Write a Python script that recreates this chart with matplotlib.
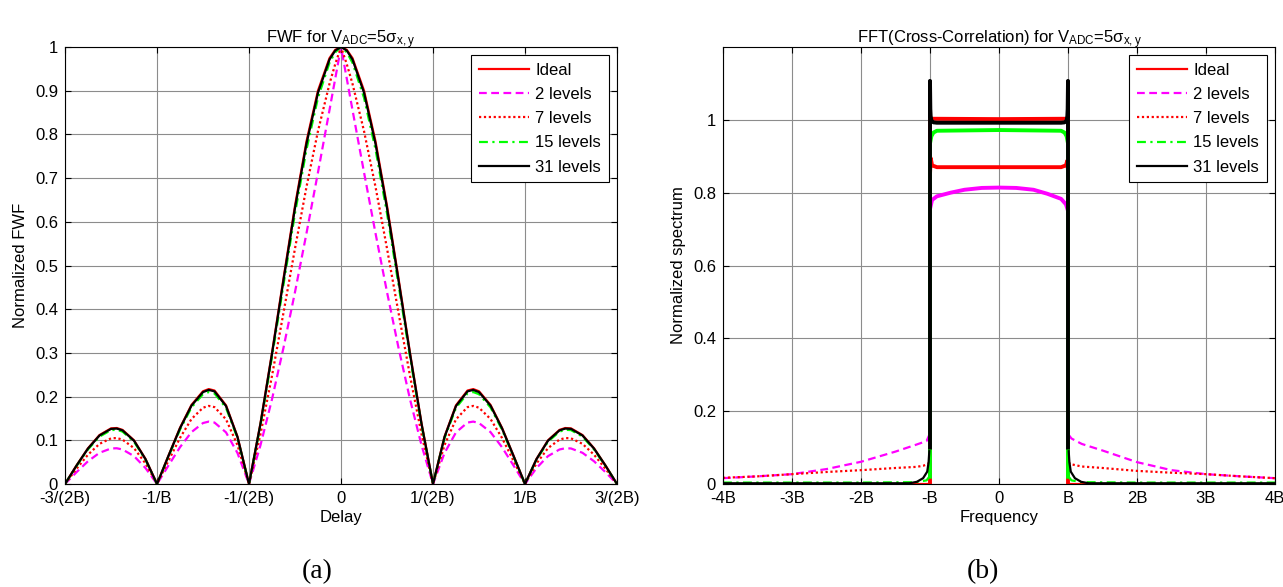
import numpy as np
import matplotlib
matplotlib.use("Agg")
import matplotlib.pyplot as plt

plt.rcParams['font.family'] = ['Liberation Sans', 'DejaVu Sans']
plt.rcParams['mathtext.fontset'] = 'custom'
plt.rcParams['mathtext.rm'] = 'Liberation Sans'
plt.rcParams['mathtext.it'] = 'Liberation Sans:italic'

# ---- (a) FWF vs delay, delay in units of 1/(2B) ----
delay = [-3, -2.875, -2.75, -2.625, -2.5, -2.4375, -2.375, -2.25, -2.125, -2,
         -1.875, -1.75, -1.625, -1.5, -1.4375, -1.375, -1.25, -1.125, -1,
         -0.875, -0.75, -0.625, -0.5, -0.375, -0.25, -0.125, -0.0625,
         0, 0.0625, 0.125, 0.25, 0.375, 0.5, 0.625, 0.75, 0.875, 1,
         1.125, 1.25, 1.375, 1.4375, 1.5, 1.625, 1.75, 1.875, 2,
         2.125, 2.25, 2.375, 2.4375, 2.5, 2.625, 2.75, 2.875, 3]
delay_ticks = [-3, -2, -1, 0, 1, 2, 3]
delay_labels = ['-3/(2B)', '-1/B', '-1/(2B)', '0', '1/(2B)', '1/B', '3/(2B)']

fwf_ideal = [0.0, 0.0424, 0.0818, 0.1120, 0.1273, 0.1281, 0.1238, 0.1000, 0.0573, 0.0,
             0.0650, 0.1286, 0.1810, 0.2122, 0.2172, 0.2139, 0.1801, 0.1083, 0.0,
             0.1392, 0.3001, 0.4705, 0.6366, 0.7842, 0.9003, 0.9745, 0.9936,
             1.0, 0.9936, 0.9745, 0.9003, 0.7842, 0.6366, 0.4705, 0.3001, 0.1392, 0.0,
             0.1083, 0.1801, 0.2139, 0.2172, 0.2122, 0.1810, 0.1286, 0.0650, 0.0,
             0.0573, 0.1000, 0.1238, 0.1281, 0.1273, 0.1120, 0.0818, 0.0424, 0.0]
fwf_2 = [0.0, 0.0270, 0.0521, 0.0714, 0.0813, 0.0818, 0.0790, 0.0638, 0.0365, 0.0,
         0.0424, 0.0842, 0.1188, 0.1395, 0.1428, 0.1406, 0.1182, 0.0708, 0.0,
         0.0889, 0.1940, 0.3119, 0.4393, 0.5739, 0.7133, 0.8559, 0.9279,
         1.0, 0.9279, 0.8559, 0.7133, 0.5739, 0.4393, 0.3119, 0.1940, 0.0889, 0.0,
         0.0708, 0.1182, 0.1406, 0.1428, 0.1395, 0.1188, 0.0842, 0.0424, 0.0,
         0.0365, 0.0638, 0.0790, 0.0818, 0.0813, 0.0714, 0.0521, 0.0270, 0.0]
fwf_7 = [0.0, 0.0348, 0.0671, 0.0919, 0.1045, 0.1052, 0.1016, 0.0821, 0.0470, 0.0,
         0.0533, 0.1055, 0.1488, 0.1746, 0.1787, 0.1759, 0.1481, 0.0889, 0.0,
         0.1143, 0.2476, 0.3920, 0.5390, 0.6801, 0.8078, 0.9158, 0.9611,
         1.0, 0.9611, 0.9158, 0.8078, 0.6801, 0.5390, 0.3920, 0.2476, 0.1143, 0.0,
         0.0889, 0.1481, 0.1759, 0.1787, 0.1746, 0.1488, 0.1055, 0.0533, 0.0,
         0.0470, 0.0821, 0.1016, 0.1052, 0.1045, 0.0919, 0.0671, 0.0348, 0.0]
fwf_15 = [0.0, 0.0411, 0.0792, 0.1084, 0.1233, 0.1240, 0.1199, 0.0968, 0.0555, 0.0,
          0.0629, 0.1245, 0.1753, 0.2055, 0.2104, 0.2072, 0.1744, 0.1049, 0.0,
          0.1347, 0.2908, 0.4565, 0.6193, 0.7657, 0.8839, 0.9640, 0.9879,
          1.0, 0.9879, 0.9640, 0.8839, 0.7657, 0.6193, 0.4565, 0.2908, 0.1347, 0.0,
          0.1049, 0.1744, 0.2072, 0.2104, 0.2055, 0.1753, 0.1245, 0.0629, 0.0,
          0.0555, 0.0968, 0.1199, 0.1240, 0.1233, 0.1084, 0.0792, 0.0411, 0.0]
fwf_31 = [0.0, 0.0420, 0.0811, 0.1110, 0.1261, 0.1269, 0.1227, 0.0991, 0.0568, 0.0,
          0.0644, 0.1275, 0.1794, 0.2103, 0.2153, 0.2120, 0.1785, 0.1073, 0.0,
          0.1379, 0.2975, 0.4665, 0.6317, 0.7789, 0.8956, 0.9715, 0.9920,
          1.0, 0.9920, 0.9715, 0.8956, 0.7789, 0.6317, 0.4665, 0.2975, 0.1379, 0.0,
          0.1073, 0.1785, 0.2120, 0.2153, 0.2103, 0.1794, 0.1275, 0.0644, 0.0,
          0.0568, 0.0991, 0.1227, 0.1269, 0.1261, 0.1110, 0.0811, 0.0420, 0.0]

# ---- (b) spectrum vs frequency, frequency in units of B ----
freq_ticks = [-4, -3, -2, -1, 0, 1, 2, 3, 4]
freq_labels = ['-4B', '-3B', '-2B', '-B', '0', 'B', '2B', '3B', '4B']

spec_ideal_f = [-4, -1.01, -1.0, -1.0, -0.99, 0, 0.99, 1.0, 1.0, 1.01, 4]
spec_ideal_v = [0.0, 0.0, 0.0, 1.01, 1.003, 1.002, 1.003, 1.01, 0.0, 0.0, 0.0]

spec_2_f = [-4, -3.5, -3, -2.5, -2, -1.5, -1.2, -1.05, -1.01,
            -1.0, -1.0, -0.97, -0.9, -0.7, -0.5, -0.25, 0, 0.25, 0.5, 0.7, 0.9, 0.97, 1.0, 1.0,
            1.01, 1.05, 1.2, 1.5, 2, 2.5, 3, 3.5, 4]
spec_2_v = [0.016, 0.021, 0.027, 0.041, 0.061, 0.089, 0.108, 0.118, 0.135,
            0.14, 0.755, 0.78, 0.79, 0.80, 0.808, 0.813, 0.814, 0.813, 0.808, 0.797, 0.783, 0.768, 0.75, 0.14,
            0.135, 0.125, 0.11, 0.092, 0.06, 0.038, 0.027, 0.021, 0.016]

spec_7_f = [-4, -3.5, -3, -2.5, -2, -1.5, -1.2, -1.1, -1.03, -1.01,
            -1.0, -1.0, -0.99, -0.97, -0.9, 0, 0.9, 0.97, 0.99, 1.0, 1.0,
            1.01, 1.03, 1.1, 1.2, 1.5, 2, 2.5, 3, 3.5, 4]
spec_7_v = [0.017, 0.021, 0.027, 0.033, 0.038, 0.044, 0.047, 0.05, 0.055, 0.06,
            0.06, 0.85, 0.895, 0.875, 0.87, 0.87, 0.87, 0.875, 0.888, 0.86, 0.06,
            0.06, 0.055, 0.052, 0.048, 0.044, 0.036, 0.031, 0.027, 0.021, 0.016]

spec_15_f = [-4, -2, -1.2, -1.05, -1.01,
             -1.0, -1.0, -0.98, -0.95, -0.9, 0, 0.9, 0.95, 0.98, 1.0, 1.0,
             1.01, 1.05, 1.2, 2, 4]
spec_15_v = [0.004, 0.004, 0.005, 0.01, 0.02,
             0.02, 0.935, 0.955, 0.965, 0.97, 0.972, 0.97, 0.965, 0.955, 0.935, 0.02,
             0.02, 0.01, 0.005, 0.004, 0.004]

spec_31_f = [-4, -1.3, -1.19, -1.1, -1.04, -1.02, -1.01,
             -1.0, -1.0, -0.995, -0.99, -0.98, -0.95, -0.9, 0, 0.9, 0.95, 0.98, 0.99, 0.995, 1.0, 1.0,
             1.01, 1.02, 1.04, 1.1, 1.19, 1.3, 4]
spec_31_v = [0.002, 0.002, 0.006, 0.016, 0.034, 0.06, 0.09,
             0.1, 1.107, 1.03, 1.01, 0.998, 0.993, 0.992, 0.992, 0.992, 0.993, 0.998, 1.01, 1.03, 1.107, 0.1,
             0.09, 0.06, 0.034, 0.016, 0.006, 0.002, 0.002]

labels = ['Ideal', '2 levels', '7 levels', '15 levels', '31 levels']
colors = ['#ff0000', '#ff00ff', '#ff0000', '#00ff00', '#000000']
styles = ['-', (0, (3.5, 2)), (0, (1, 1.2)), (0, (4, 2, 1, 2)), '-']


def style_axes(ax):
    ax.set_axisbelow(True)
    ax.grid(True, color='#8c8c8c', linewidth=0.8, linestyle='-')
    ax.tick_params(direction='in', top=True, right=True, length=4, width=0.8,
                   labelsize=12, pad=5)
    for sp in ax.spines.values():
        sp.set_linewidth(0.8)


def add_legend(ax):
    leg = ax.legend(loc='upper right', fontsize=12, handlelength=3.0,
                    handletextpad=0.4, labelspacing=0.55, borderpad=0.45,
                    fancybox=False, framealpha=1, edgecolor='black',
                    borderaxespad=0.5)
    leg.get_frame().set_linewidth(0.8)


fig = plt.figure(figsize=(12.83, 5.87), dpi=100)

# (a)
ax1 = fig.add_axes([65 / 1283, 103 / 587, 552 / 1283, 437 / 587])
for y, lab, c, ls in zip([fwf_ideal, fwf_2, fwf_7, fwf_15, fwf_31], labels, colors, styles):
    ax1.plot(delay, y, color=c, linestyle=ls, linewidth=1.6, label=lab)
ax1.set_xlim(-3, 3)
ax1.set_ylim(0, 1)
ax1.set_xticks(delay_ticks)
ax1.set_xticklabels(delay_labels)
ax1.set_yticks(np.arange(0, 1.01, 0.1))
ax1.set_yticklabels(['0', '0.1', '0.2', '0.3', '0.4', '0.5', '0.6', '0.7', '0.8', '0.9', '1'])
style_axes(ax1)
ax1.set_xlabel('Delay', fontsize=12, labelpad=3)
ax1.set_ylabel('Normalized FWF', fontsize=12, labelpad=5)
ax1.set_title(r'FWF for V$_{\rm ADC}$=5σ$_{\rm x,y}$', fontsize=12, pad=3)
add_legend(ax1)

# (b)
ax2 = fig.add_axes([723 / 1283, 103 / 587, 552 / 1283, 437 / 587])
series = [(spec_ideal_f, spec_ideal_v), (spec_2_f, spec_2_v), (spec_7_f, spec_7_v),
          (spec_15_f, spec_15_v), (spec_31_f, spec_31_v)]
for (f, v), lab, c, ls in zip(series, labels, colors, styles):
    f = np.asarray(f, dtype=float)
    v = np.asarray(v, dtype=float)
    band = np.abs(f) <= 1.0
    left = f < -1.0
    right = f > 1.0
    ax2.plot(f[left], v[left], color=c, linestyle=ls, linewidth=1.6, label=lab)
    ax2.plot(f[right], v[right], color=c, linestyle=ls, linewidth=1.6)
    # in-band part is dense noise in the original, so it reads as a thick solid line
    ax2.plot(f[band], v[band], color=c, linestyle='-', linewidth=2.8)
ax2.set_xlim(-4, 4)
ax2.set_ylim(0, 1.2)
ax2.set_xticks(freq_ticks)
ax2.set_xticklabels(freq_labels)
ax2.set_yticks([0, 0.2, 0.4, 0.6, 0.8, 1.0])
ax2.set_yticklabels(['0', '0.2', '0.4', '0.6', '0.8', '1'])
style_axes(ax2)
ax2.set_xlabel('Frequency', fontsize=12, labelpad=3)
ax2.set_ylabel('Normalized spectrum', fontsize=12, labelpad=5)
ax2.set_title(r'FFT(Cross-Correlation) for V$_{\rm ADC}$=5σ$_{\rm x,y}$', fontsize=12, pad=3)
add_legend(ax2)

fig.text(317 / 1283, 1 - 572 / 587, '(a)', family=['Liberation Serif', 'DejaVu Serif'],
         fontsize=20, ha='center', va='center')
fig.text(983 / 1283, 1 - 572 / 587, '(b)', family=['Liberation Serif', 'DejaVu Serif'],
         fontsize=20, ha='center', va='center')

fig.savefig('out.png', dpi=100)
